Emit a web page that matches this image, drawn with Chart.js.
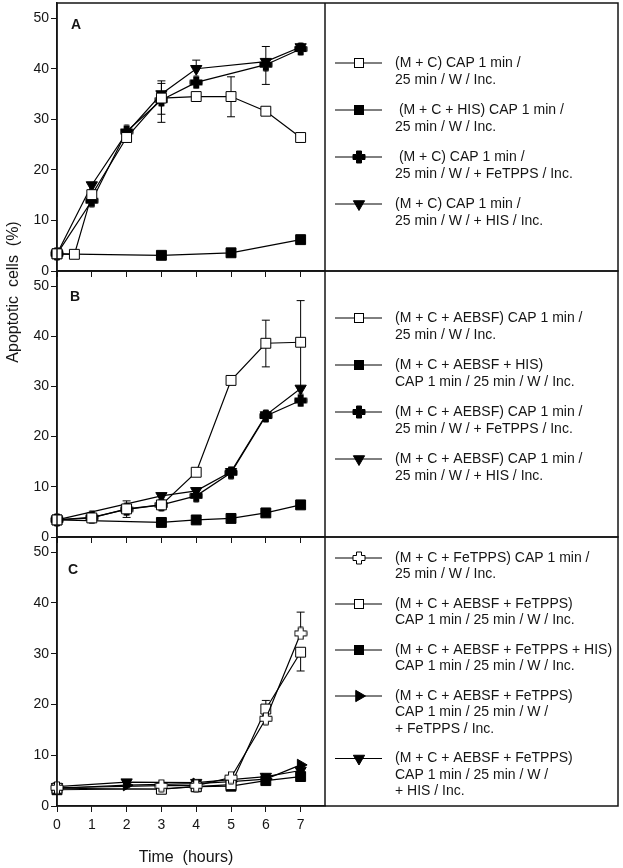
<!DOCTYPE html>
<html>
<head>
<meta charset="utf-8">
<script src="https://cdn.jsdelivr.net/npm/chart.js@4.4.1/dist/chart.umd.min.js"></script>
<style>
  html, body { margin: 0; padding: 0; background: #fff; }
  #wrap { position: relative; width: 623px; height: 868px; }
  #wrap canvas { position: absolute; left: 0; top: 0; }
</style>
</head>
<body>
<div id="wrap">
  <canvas id="chartA" width="623" height="868"></canvas>
  <canvas id="chartB" width="623" height="868"></canvas>
  <canvas id="chartC" width="623" height="868"></canvas>
</div>
<script>
// tick labels
var xTicks = [0, 1, 2, 3, 4, 5, 6, 7];
var yTicks = [0, 10, 20, 30, 40, 50];

// ---- Panel A ----
var xA1 = [0, 0.5, 1, 2, 3, 4, 5, 6, 7];
var yA1 = [3.4, 3.3, 15.1, 26.4, 34.2, 34.5, 34.5, 31.6, 26.4];
var errA1 = [[3, 31.0, 37.1], [5, 30.5, 38.4]];
var xA2 = [0, 3, 5, 7];
var yA2 = [3.4, 3.1, 3.6, 6.2];
var xA3 = [0, 1, 2, 3, 4, 6, 7];
var yA3 = [3.4, 13.9, 27.6, 33.8, 37.3, 40.8, 43.9];
var errA3 = [[3, 29.4, null], [6, 36.9, null]];
var xA4 = [0, 1, 2, 3, 4, 6, 7];
var yA4 = [3.4, 17.0, 27.3, 35.0, 40.0, 41.4, 44.3];
var errA4 = [[3, null, 37.6], [4, null, 41.7], [6, null, 44.4]];
var legA = [
  ["(M + C) CAP 1 min /", "25 min / W / Inc."],
  [" (M + C + HIS) CAP 1 min /", "25 min / W / Inc."],
  [" (M + C) CAP 1 min /", "25 min / W / + FeTPPS / Inc."],
  ["(M + C) CAP 1 min /", "25 min / W / + HIS / Inc."]
];

// ---- Panel B ----
var xB1 = [0, 1, 2, 3, 4, 5, 6, 7];
var yB1 = [3.4, 3.8, 5.6, 6.4, 12.9, 31.2, 38.6, 38.8];
var errB1 = [[2, 3.9, 7.2], [6, 33.9, 43.2], [7, 30.0, 47.1]];
var xB2 = [0, 3, 4, 5, 6, 7];
var yB2 = [3.4, 2.9, 3.4, 3.7, 4.8, 6.4];
var xB3 = [0, 1, 2, 3, 4, 5, 6, 7];
var yB3 = [3.4, 3.9, 5.5, 6.4, 8.2, 12.8, 24.1, 27.2];
var xB4 = [0, 3, 4, 5, 6, 7];
var yB4 = [3.4, 8.2, 9.2, 13.0, 24.3, 29.6];
var legB = [
  ["(M + C + AEBSF) CAP 1 min /", "25 min / W / Inc."],
  ["(M + C + AEBSF + HIS)", "CAP 1 min / 25 min / W / Inc."],
  ["(M + C + AEBSF) CAP 1 min /", "25 min / W / + FeTPPS / Inc."],
  ["(M + C + AEBSF) CAP 1 min /", "25 min / W / + HIS / Inc."]
];

// ---- Panel C ----
var xC1 = [0, 3, 4, 5, 6, 7];
var yC1 = [3.6, 4.0, 4.0, 5.6, 17.2, 34.0];
var errC1 = [[7, null, 38.2]];
var xC2 = [0, 3, 4, 5, 6, 7];
var yC2 = [3.5, 3.3, 3.8, 4.2, 19.1, 30.3];
var errC2 = [[6, null, 20.8], [7, 26.6, null]];
var xC3 = [0, 3, 4, 5, 6, 7];
var yC3 = [3.2, 3.4, 3.8, 3.9, 5.0, 5.8];
var xC4 = [0, 2, 4, 5, 6, 7];
var yC4 = [3.5, 4.1, 4.4, 4.8, 5.3, 8.1];
var xC5 = [0, 2, 4, 6, 7];
var yC5 = [3.8, 4.7, 4.6, 5.8, 7.0];
var legC = [
  ["(M + C + FeTPPS) CAP 1 min /", "25 min / W / Inc."],
  ["(M + C + AEBSF + FeTPPS)", "CAP 1 min / 25 min / W / Inc."],
  ["(M + C + AEBSF + FeTPPS + HIS)", "CAP 1 min / 25 min / W / Inc."],
  ["(M + C + AEBSF + FeTPPS)", "CAP 1 min / 25 min / W /", "+ FeTPPS / Inc."],
  ["(M + C + AEBSF + FeTPPS)", "CAP 1 min / 25 min / W /", "+ HIS / Inc."]
];

var FONT = '"Liberation Sans", Arial, Helvetica, sans-serif';
var INK = '#151515';
var BOX_RIGHT = 618;

// plus shaped marker (filled black or open)
function makePlus(fill) {
  var c = document.createElement('canvas');
  c.width = 14; c.height = 14;
  var g = c.getContext('2d');
  var m = 7, a = 2.5, L = 6;
  g.beginPath();
  g.moveTo(m - a, m - L); g.lineTo(m + a, m - L); g.lineTo(m + a, m - a);
  g.lineTo(m + L, m - a); g.lineTo(m + L, m + a); g.lineTo(m + a, m + a);
  g.lineTo(m + a, m + L); g.lineTo(m - a, m + L); g.lineTo(m - a, m + a);
  g.lineTo(m - L, m + a); g.lineTo(m - L, m - a); g.lineTo(m - a, m - a);
  g.closePath();
  g.fillStyle = fill; g.fill();
  g.lineWidth = 1; g.strokeStyle = '#000'; g.stroke();
  return c;
}
var plusFill = makePlus('#000');
var plusOpen = makePlus('#fff');

function markerProps(kind) {
  switch (kind) {
    case 'sqOpen': return { pointStyle: 'rect', pointRadius: 7, pointBackgroundColor: '#fff' };
    case 'sqFill': return { pointStyle: 'rect', pointRadius: 7, pointBackgroundColor: '#000' };
    case 'triDown': return { pointStyle: 'triangle', pointRotation: 180, pointRadius: 6.5, pointBackgroundColor: '#000' };
    case 'triRight': return { pointStyle: 'triangle', pointRotation: 90, pointRadius: 6.5, pointBackgroundColor: '#000' };
    case 'plusFill': return { pointStyle: plusFill, pointRadius: 6 };
    case 'plusOpen': return { pointStyle: plusOpen, pointRadius: 6 };
  }
}

// marker for the legend boxes
function drawMarker(ctx, kind, x, y) {
  ctx.save();
  ctx.lineWidth = 1;
  ctx.strokeStyle = '#000';
  if (kind == 'sqOpen' || kind == 'sqFill') {
    ctx.fillStyle = kind == 'sqOpen' ? '#fff' : '#000';
    ctx.fillRect(x - 4.5, y - 4.5, 9, 9);
    ctx.strokeRect(x - 4.5, y - 4.5, 9, 9);
  } else if (kind == 'triDown' || kind == 'triRight') {
    var rad = (kind == 'triDown' ? 180 : 90) * Math.PI / 180, r = 6.5;
    ctx.beginPath();
    for (var i = 0; i < 3; i++) {
      var t = rad + i * 2 * Math.PI / 3;
      ctx.lineTo(x + Math.sin(t) * r, y - Math.cos(t) * r);
    }
    ctx.closePath();
    ctx.fillStyle = '#000';
    ctx.fill(); ctx.stroke();
  } else {
    var img = kind == 'plusFill' ? plusFill : plusOpen;
    ctx.drawImage(img, x - img.width / 2, y - img.height / 2);
  }
  ctx.restore();
}

function pts(xs, ys) {
  return xs.map(function (v, i) { return { x: v, y: ys[i] }; });
}

function makeChart(id, series, panel) {
  var xAxisH = panel.showX ? 40 : 19;

  var panelPlugin = {
    id: 'panel' + id,
    beforeDatasetsDraw: function (chart) {
      var ctx = chart.ctx, sx = chart.scales.x, sy = chart.scales.y;
      ctx.save();
      ctx.strokeStyle = '#000';
      ctx.lineWidth = 1;
      series.forEach(function (s) {
        (s.err || []).forEach(function (e) {
          var val = s.y[s.x.indexOf(e[0])];
          var px = sx.getPixelForValue(e[0]);
          var lo = sy.getPixelForValue(e[1] == null ? val : e[1]);
          var hi = sy.getPixelForValue(e[2] == null ? val : e[2]);
          ctx.beginPath();
          ctx.moveTo(px, lo); ctx.lineTo(px, hi);
          if (e[1] != null) { ctx.moveTo(px - 4, lo); ctx.lineTo(px + 4, lo); }
          if (e[2] != null) { ctx.moveTo(px - 4, hi); ctx.lineTo(px + 4, hi); }
          ctx.stroke();
        });
      });
      ctx.restore();
    },
    afterDraw: function (chart) {
      var ctx = chart.ctx, ca = chart.chartArea;
      ctx.save();
      // frame around plot + legend
      ctx.strokeStyle = INK;
      ctx.lineWidth = 1.5;
      ctx.strokeRect(ca.left, ca.top, BOX_RIGHT - ca.left, ca.bottom - ca.top);
      ctx.beginPath();
      ctx.moveTo(ca.right, ca.top); ctx.lineTo(ca.right, ca.bottom);
      ctx.stroke();

      // panel letter
      ctx.fillStyle = INK;
      ctx.font = 'bold 14px ' + FONT;
      ctx.textAlign = 'center';
      ctx.textBaseline = 'middle';
      ctx.fillText(panel.letter, panel.letterX, panel.letterY);

      // legend
      var y = panel.legY;
      ctx.font = '14px ' + FONT;
      ctx.textAlign = 'left';
      series.forEach(function (s) {
        ctx.strokeStyle = '#000';
        ctx.lineWidth = 1;
        ctx.beginPath();
        ctx.moveTo(335, y); ctx.lineTo(382, y);
        ctx.stroke();
        drawMarker(ctx, s.kind, 359, y);
        ctx.fillStyle = INK;
        s.lines.forEach(function (t, i) {
          ctx.fillText(t, 395, y + i * panel.lineH);
        });
        y += s.lines.length * panel.lineH + 13;
      });

      // axis titles
      if (panel.yTitle) {
        ctx.save();
        ctx.translate(14, 292);
        ctx.rotate(-Math.PI / 2);
        ctx.font = '16px ' + FONT;
        ctx.textAlign = 'center';
        ctx.fillText('Apoptotic  cells  (%)', 0, 0);
        ctx.restore();
      }
      if (panel.showX) {
        ctx.font = '16px ' + FONT;
        ctx.textAlign = 'center';
        ctx.fillText('Time  (hours)', 186, 858);
      }
      ctx.restore();
    }
  };

  return new Chart(document.getElementById(id), {
    type: 'line',
    data: {
      datasets: series.map(function (s) {
        return Object.assign({
          label: s.lines.join(' '),
          data: pts(s.x, s.y),
          borderColor: '#000',
          borderWidth: 1.2,
          pointBorderColor: '#000',
          pointBorderWidth: 1,
          tension: 0,
          clip: false
        }, markerProps(s.kind));
      })
    },
    options: {
      responsive: false,
      animation: false,
      devicePixelRatio: 1,
      events: [],
      layout: {
        autoPadding: false,
        padding: { left: 0, right: 623 - 325, top: panel.top, bottom: 868 - panel.bottom - xAxisH }
      },
      plugins: { legend: { display: false }, tooltip: { enabled: false } },
      scales: {
        x: {
          type: 'linear',
          min: 0,
          max: 7.7,
          afterBuildTicks: function (s) { s.ticks = xTicks.map(function (v) { return { value: v }; }); },
          afterFit: function (s) { s.height = xAxisH; s.paddingLeft = 0; s.paddingRight = 0; },
          ticks: { display: panel.showX, padding: 5, color: INK, font: { size: 14, family: FONT } },
          grid: { drawOnChartArea: false, drawTicks: true, tickLength: 6, color: INK, lineWidth: 1 },
          border: { display: true, color: INK, width: 1.5 }
        },
        y: {
          min: 0,
          max: 53,
          afterBuildTicks: function (s) { s.ticks = yTicks.map(function (v) { return { value: v }; }); },
          afterFit: function (s) { s.width = 57; s.paddingTop = 0; s.paddingBottom = 0; },
          ticks: { padding: 2, color: INK, font: { size: 14, family: FONT } },
          grid: { drawOnChartArea: false, drawTicks: true, tickLength: 6, color: INK, lineWidth: 1 },
          border: { display: true, color: INK, width: 1.5 }
        }
      }
    },
    plugins: [panelPlugin]
  });
}

makeChart('chartA', [
  { x: xA1, y: yA1, err: errA1, kind: 'sqOpen', lines: legA[0] },
  { x: xA2, y: yA2, kind: 'sqFill', lines: legA[1] },
  { x: xA3, y: yA3, err: errA3, kind: 'plusFill', lines: legA[2] },
  { x: xA4, y: yA4, err: errA4, kind: 'triDown', lines: legA[3] }
], { top: 3, bottom: 271, showX: false, letter: 'A', letterX: 76, letterY: 25, legY: 63, lineH: 17, yTitle: true });

makeChart('chartB', [
  { x: xB1, y: yB1, err: errB1, kind: 'sqOpen', lines: legB[0] },
  { x: xB2, y: yB2, kind: 'sqFill', lines: legB[1] },
  { x: xB3, y: yB3, kind: 'plusFill', lines: legB[2] },
  { x: xB4, y: yB4, kind: 'triDown', lines: legB[3] }
], { top: 271, bottom: 537, showX: false, letter: 'B', letterX: 75, letterY: 297, legY: 318, lineH: 17 });

makeChart('chartC', [
  { x: xC1, y: yC1, err: errC1, kind: 'plusOpen', lines: legC[0] },
  { x: xC2, y: yC2, err: errC2, kind: 'sqOpen', lines: legC[1] },
  { x: xC3, y: yC3, kind: 'sqFill', lines: legC[2] },
  { x: xC4, y: yC4, kind: 'triRight', lines: legC[3] },
  { x: xC5, y: yC5, kind: 'triDown', lines: legC[4] }
], { top: 537, bottom: 806, showX: true, letter: 'C', letterX: 73, letterY: 570, legY: 558, lineH: 16.5 });
</script>
</body>
</html>
